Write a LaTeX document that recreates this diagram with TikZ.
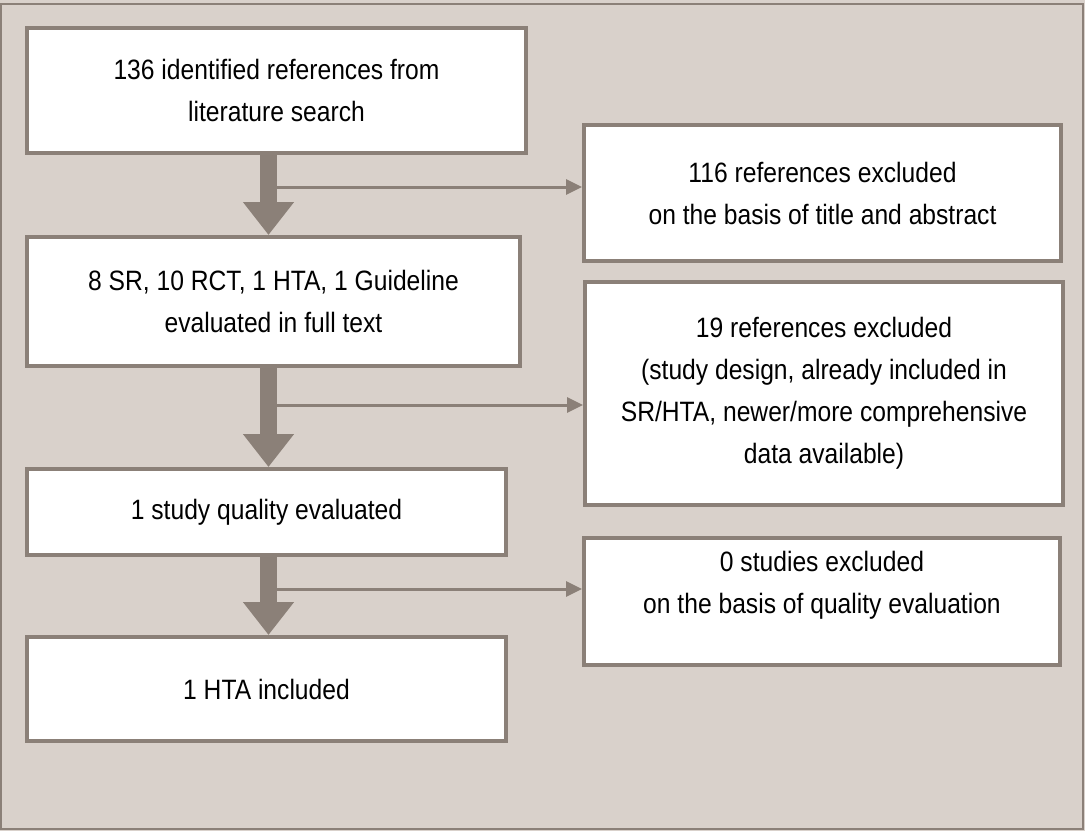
\documentclass[tikz,border=0pt]{standalone}
\usepackage{fontspec}
\setmainfont[FakeStretch=0.88]{Liberation Sans}
\usetikzlibrary{arrows.meta,positioning,calc}
\definecolor{sand}{RGB}{217,209,203}
\definecolor{taupe}{RGB}{139,128,120}
\tikzset{
  flowbox/.style={draw=taupe,line width=4pt,fill=white,align=center,inner sep=0pt,
    font=\fontsize{28}{42}\selectfont},
  bigarrow/.style={taupe,line width=17pt,-{Triangle[length=33pt,width=49pt]}},
  sidearrow/.style={taupe,line width=3pt,-{Triangle[length=16pt,width=15pt]}}
}

\begin{document}
\begin{tikzpicture}[x=1pt,y=-1pt]
\useasboundingbox (0,0) rectangle (1085,831);
\fill[sand] (0,0) rectangle (1085,831);
\draw[taupe,line width=2pt] (1,4) rectangle (1083,829);
% left column
\node[flowbox,minimum width=499pt,minimum height=125pt] (b1) at (276.5,90.5)
  {136 identified references from\\literature search};
\node[flowbox,minimum width=493pt,minimum height=129pt] (b2) at (273.5,301.5)
  {8 SR, 10 RCT, 1 HTA, 1 Guideline\\evaluated in full text};
\node[flowbox,minimum width=479pt,minimum height=86pt] (b3) at (266.5,512)
  {1 study quality evaluated};
\node[flowbox,minimum width=479pt,minimum height=104pt] (b4) at (266.5,689)
  {1 HTA included};
% right column
\node[flowbox,minimum width=477pt,minimum height=136pt] (r1) at (822.5,193)
  {116 references excluded\\on the basis of title and abstract};
\node[flowbox,minimum width=478pt,minimum height=223pt] (r2) at (824,393.5)
  {19 references excluded\\(study design, already included in\\SR/HTA, newer/more comprehensive\\data available)};
\node[flowbox,minimum width=476pt,minimum height=127pt] (r3) at (822,601.5)
  {0 studies excluded\\on the basis of quality evaluation\\[-16pt]\strut};
\coordinate (ax) at (268.5,0);
\foreach \a/\b/\r/\y in {b1/b2/r1/187,b2/b3/r2/405,b3/b4/r3/589}{
  \draw[bigarrow] (\a.south -| ax) -- (\b.north -| ax);
  \coordinate (j\r) at (277,\y);
  \draw[sidearrow] (j\r) -- (j\r -| \r.west);
}
\end{tikzpicture}
\end{document}
